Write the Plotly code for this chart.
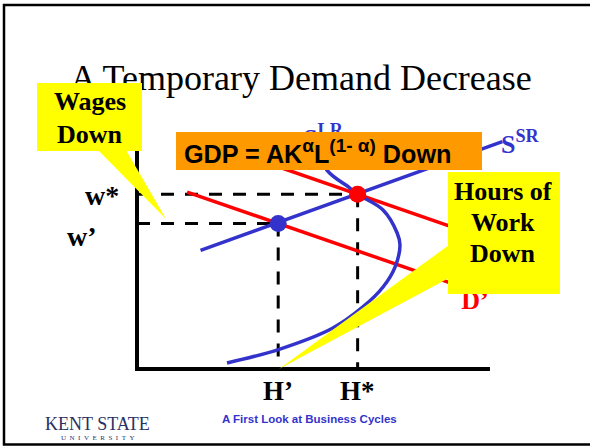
import plotly.graph_objects as go

W, H = 590, 446
# pixel reference of the chart origin and scale (layout only)
X0_PX, Y0_PX = 137, 369
PX_PER_X, PX_PER_Y = 35.3, 22.4

# ---- data (hours on x, real wage on y) ----
h_prime, h_star = 4.0, 6.25
w_prime, w_star = 6.5, 7.8
ssr_h = [1.8, 10.35]          # short-run labour supply
ssr_w = [5.3, 10.15]
d_h = [2.92, 9.43]            # original labour demand D
d_w = [9.62, 6.07]
d2_h = [1.42, 9.1]            # lower labour demand D'
d2_w = [7.9, 3.72]
slr_h = [5.13, 5.38, 6.03, 6.25, 6.97, 7.37, 7.45, 7.31, 6.97, 6.40, 5.55, 4.05, 2.55]
slr_w = [9.87, 8.88, 8.08, 7.80, 7.10, 6.07, 5.54, 4.55, 3.66, 2.77, 1.83, 0.89, 0.27]
axis_h_max = 10.0
axis_w_max = 10.2
tick_w_labels = ["w*", "w’"]
tick_h_labels = ["H’", "H*"]

BLUE = "#3333CC"
RED = "#FF0000"
YEL = "#FFFF00"
ORANGE = "#FF9900"
SERIF = "Liberation Serif, Times New Roman, serif"
SANS = "Liberation Sans, Arial, sans-serif"


def dx(px):
    return (px - X0_PX) / PX_PER_X


def dy(py):
    return (Y0_PX - py) / PX_PER_Y


def ppx(px):
    return px / W


def ppy(py):
    return 1 - py / H


fig = go.Figure()
dash = "13px,11px"
# dashed guide lines
fig.add_trace(go.Scatter(x=[0, h_star], y=[w_star, w_star], mode="lines",
                         line=dict(color="black", width=3, dash=dash)))
fig.add_trace(go.Scatter(x=[0, h_prime], y=[w_prime, w_prime], mode="lines",
                         line=dict(color="black", width=3, dash=dash)))
fig.add_trace(go.Scatter(x=[h_prime, h_prime], y=[w_prime, 0], mode="lines",
                         line=dict(color="black", width=3, dash=dash)))
fig.add_trace(go.Scatter(x=[h_star, h_star], y=[w_star, 0], mode="lines",
                         line=dict(color="black", width=3, dash=dash)))
# demand curves
fig.add_trace(go.Scatter(x=d_h, y=d_w, mode="lines", line=dict(color=RED, width=3.5)))
fig.add_trace(go.Scatter(x=d2_h, y=d2_w, mode="lines", line=dict(color=RED, width=3.5)))
# supply curves
fig.add_trace(go.Scatter(x=ssr_h, y=ssr_w, mode="lines", line=dict(color=BLUE, width=3.5)))
fig.add_trace(go.Scatter(x=slr_h, y=slr_w, mode="lines",
                         line=dict(color=BLUE, width=3.5, shape="spline", smoothing=1.0)))
# axes
fig.add_trace(go.Scatter(x=[0, 0, axis_h_max], y=[axis_w_max, 0, 0], mode="lines",
                         line=dict(color="black", width=4)))
# equilibria
fig.add_trace(go.Scatter(x=[h_prime], y=[w_prime], mode="markers",
                         marker=dict(color=BLUE, size=17, line=dict(width=0))))
fig.add_trace(go.Scatter(x=[h_star], y=[w_star], mode="markers",
                         marker=dict(color=RED, size=17, line=dict(width=0))))
# texts that are partly covered by boxes
fig.add_trace(go.Scatter(x=[dx(301)], y=[dy(81)], mode="text",
                         text=["A Temporary Demand Decrease"],
                         textfont=dict(family=SERIF, size=36, color="black"),
                         textposition="middle center"))
fig.add_trace(go.Scatter(x=[dx(323)], y=[dy(140)], mode="text",
                         text=["<b>S<sup>LR</sup></b>"],
                         textfont=dict(family=SERIF, size=26, color=BLUE),
                         textposition="middle center"))
fig.add_trace(go.Scatter(x=[dx(475)], y=[dy(302)], mode="text",
                         text=["<b>D’</b>"],
                         textfont=dict(family=SERIF, size=26, color=RED),
                         textposition="middle center"))

shapes = []
# slide frame
shapes.append(dict(type="rect", xref="paper", yref="paper", x0=ppx(4), y0=ppy(444.5),
                   x1=1.02, y1=ppy(5), line=dict(color="black", width=2.5), layer="below"))
# Wages callout
shapes.append(dict(type="path", xref="paper", yref="paper",
                   path=f"M {ppx(98)},{ppy(150)} L {ppx(126)},{ppy(150)} L {ppx(166)},{ppy(219)} Z",
                   fillcolor=YEL, line=dict(width=0), layer="above"))
shapes.append(dict(type="rect", xref="paper", yref="paper", x0=ppx(37), y0=ppy(151),
                   x1=ppx(142), y1=ppy(83), fillcolor=YEL, line=dict(width=0), layer="above"))
# Hours callout
shapes.append(dict(type="path", xref="paper", yref="paper",
                   path=f"M {ppx(449)},{ppy(245)} L {ppx(449)},{ppy(278)} L {ppx(279)},{ppy(369)} Z",
                   fillcolor=YEL, line=dict(width=0), layer="above"))
shapes.append(dict(type="rect", xref="paper", yref="paper", x0=ppx(448), y0=ppy(294),
                   x1=ppx(560), y1=ppy(172), fillcolor=YEL, line=dict(width=0), layer="above"))
# GDP box
shapes.append(dict(type="rect", xref="paper", yref="paper", x0=ppx(176), y0=ppy(170),
                   x1=ppx(482), y1=ppy(132), fillcolor=ORANGE, line=dict(width=0), layer="above"))

ann = []


def label(text, px, py, size, family=SERIF, color="black", xanchor="center"):
    ann.append(dict(text=text, x=ppx(px), y=ppy(py), xref="paper", yref="paper",
                    xanchor=xanchor, yanchor="middle", showarrow=False,
                    font=dict(family=family, size=size, color=color)))


label("<b>Wages</b>", 90, 101, 26)
label("<b>Down</b>", 90, 134, 26)
label("<b>Hours of</b>", 503, 191, 26)
label("<b>Work</b>", 503, 222, 26)
label("<b>Down</b>", 503, 253, 26)
label("<b>GDP = AK<sup><span style='font-size:19px'>α</span></sup>L"
      "<sup><span style='font-size:19px'>(1- α)</span></sup> Down</b>",
      182, 151, 25.2, family=SANS, xanchor="left")
label("<b>S<sup>SR</sup></b>", 499, 142, 26, color=BLUE, xanchor="left")
label(f"<b>{tick_w_labels[0]}</b>", 102, 195, 28)
label(f"<b>{tick_w_labels[1]}</b>", 82, 236, 28)
ann.append(dict(text=f"<b>{tick_h_labels[0]}</b>", x=h_prime, y=ppy(391), xref="x", yref="paper",
                xanchor="center", yanchor="middle", showarrow=False,
                font=dict(family=SERIF, size=27, color="black")))
ann.append(dict(text=f"<b>{tick_h_labels[1]}</b>", x=h_star, y=ppy(391), xref="x", yref="paper",
                xanchor="center", yanchor="middle", showarrow=False,
                font=dict(family=SERIF, size=27, color="black")))
label("<b>A First Look at Business Cycles</b>", 309, 419, 11.5, family=SANS, color=BLUE)
label("KENT STATE", 97, 424, 18, color="#2B3163")
label("\u00a0\u00a0".join("UNIVERSITY"), 98, 438, 7, color="#2B3163")

fig.update_layout(
    width=W, height=H, margin=dict(l=0, r=0, t=0, b=0),
    paper_bgcolor="white", plot_bgcolor="white", showlegend=False,
    xaxis=dict(range=[-X0_PX / PX_PER_X, (W - X0_PX) / PX_PER_X], visible=False, fixedrange=True),
    yaxis=dict(range=[-(H - Y0_PX) / PX_PER_Y, Y0_PX / PX_PER_Y], visible=False, fixedrange=True),
    shapes=shapes, annotations=ann, hovermode=False,
)
fig.write_html("out.html", config={"displayModeBar": False},
               post_script="document.body.style.margin='0px';document.body.style.overflow='hidden';")
